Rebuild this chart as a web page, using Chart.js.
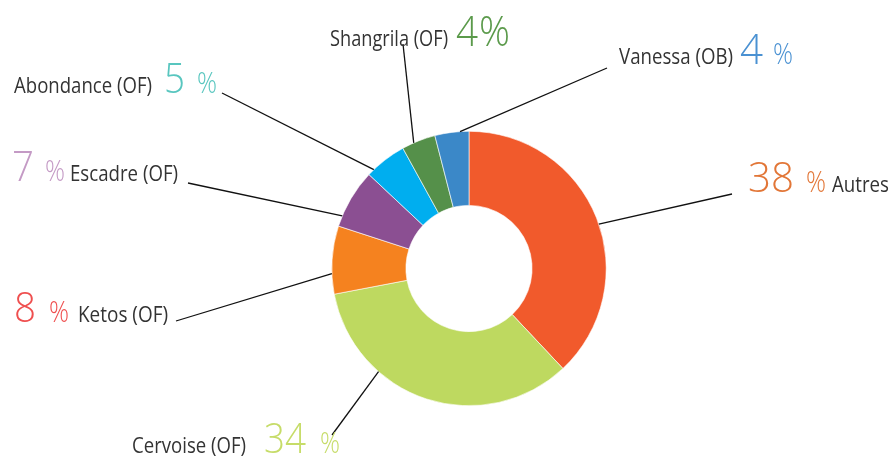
<!DOCTYPE html>
<html>
<head>
<meta charset="utf-8">
<script src="https://cdn.jsdelivr.net/npm/chart.js@4.4.1/dist/chart.umd.min.js"></script>
<style>
  html, body { margin: 0; padding: 0; background: #fff; }
  #wrap { width: 893px; height: 459px; }
</style>
</head>
<body>
<div id="wrap"><canvas id="chart"></canvas></div>
<script>
// slices, clockwise from 12 o'clock
const names = ['Autres', 'Cervoise (OF)', 'Ketos (OF)', 'Escadre (OF)', 'Abondance (OF)', 'Shangrila (OF)', 'Vanessa (OB)'];
const shares = [38, 34, 8, 7, 5, 4, 4];
const pctLabels = ['38 %', '34 %', '8 %', '7 %', '5 %', '4%', '4 %'];
const sliceColors = ['#f15a2c', '#bed960', '#f5821f', '#8b4f92', '#00aeef', '#55904a', '#3b88c8'];
const pctColors = ['#e27637', '#c6dc68', '#ef4f4f', '#c49ac5', '#58c6bf', '#5b9a4b', '#4a91d2'];

// where each callout sits: "at" = fraction along the slice where the leader starts
const callouts = [
    { at: 0.52, end: [732, 194], y: 192, name: [832, 57], num: [748, 46], pc: [806, 20], pcSize: 29 },
    { at: 0.69, end: [332, 435], y: 453, name: [132, 114], num: [264, 42], pc: [320, 20], pcSize: 29 },
    { at: 0.30, end: [176, 321], y: 322, name: [78, 90], num: [14, 22], pc: [49, 20], pcSize: 29 },
    { at: 0.18, end: [188, 183], y: 181, name: [70, 108], num: [12, 22], pc: [45, 20], pcSize: 29 },
    { at: 0.16, end: [222, 93], y: 93, name: [14, 138], num: [164, 21], pc: [197, 20], pcSize: 29 },
    { at: 0.35, end: [403, 44], y: 46, name: [330, 118], num: [456, 22], pc: [479, 31], pcSize: 42 },
    { at: 0.74, end: [607, 68], y: 64, name: [619, 114], num: [740, 23], pc: [773, 20], pcSize: 29 }
];

const NUM_FONT = '300 42px "Open Sans", sans-serif';
const NAME_FONT = '400 21px "Open Sans", sans-serif';

// leader lines + texts
const calloutPlugin = {
    id: 'callouts',
    afterDatasetsDraw(chart) {
        const c = chart.ctx;
        const arcs = chart.getDatasetMeta(0).data;
        c.save();
        c.textBaseline = 'alphabetic';
        c.textAlign = 'left';
        arcs.forEach((arc, i) => {
            const p = arc.getProps(['x', 'y', 'startAngle', 'endAngle', 'outerRadius'], true);
            const co = callouts[i];
            const a = p.startAngle + co.at * (p.endAngle - p.startAngle);
            const sx = p.x + Math.cos(a) * p.outerRadius;
            const sy = p.y + Math.sin(a) * p.outerRadius;
            c.strokeStyle = '#111';
            c.lineWidth = 1.3;
            c.beginPath();
            c.moveTo(sx, sy);
            c.lineTo(co.end[0], co.end[1]);
            c.stroke();

            // name
            c.fillStyle = '#333';
            c.font = NAME_FONT;
            c.fillText(names[i], co.name[0], co.y, co.name[1]);

            // number + percent sign
            const txt = pctLabels[i];
            const digits = txt.replace(/[ %]/g, '');
            c.fillStyle = pctColors[i];
            c.font = NUM_FONT;
            c.fillText(digits, co.num[0], co.y, co.num[1]);
            c.font = '300 ' + co.pcSize + 'px "Open Sans", sans-serif';
            c.fillText('%', co.pc[0], co.y, co.pc[1]);
        });
        c.restore();
    }
};

window.ctx = document.getElementById('chart');
window.chart = new Chart(ctx, {
    type: 'doughnut',
    data: {
        labels: names,
        datasets: [{
            data: shares,
            backgroundColor: sliceColors,
            borderColor: '#ffffff',
            borderWidth: 0.6
        }]
    },
    options: {
        responsive: true,
        maintainAspectRatio: false,
        animation: false,
        cutout: '46%',
        layout: { padding: { left: 331.5, right: 286.5, top: 131, bottom: 53 } },
        plugins: {
            legend: { display: false },
            tooltip: { enabled: false }
        }
    },
    plugins: [calloutPlugin]
});
</script>
</body>
</html>
